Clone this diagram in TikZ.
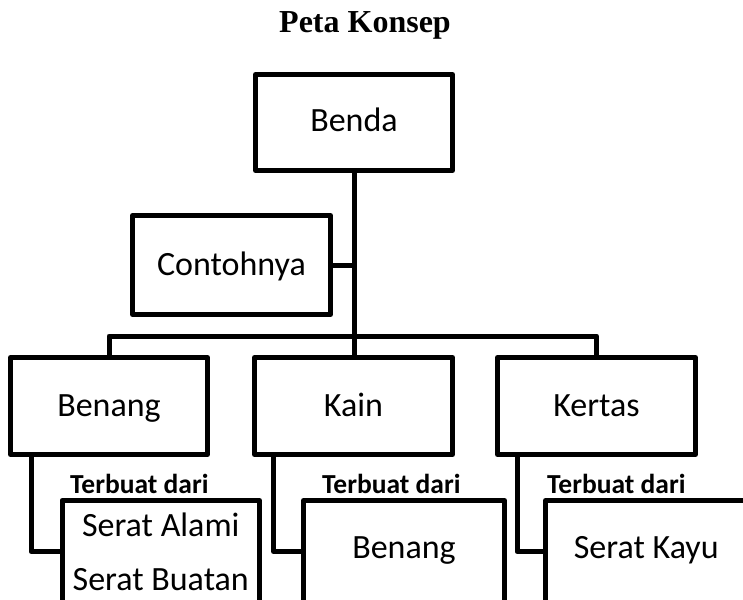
\documentclass[tikz,border=0pt]{standalone}
\usepackage{fontspec}
\setmainfont{Carlito}
\newfontfamily\titlefont{Liberation Serif}
\usetikzlibrary{positioning}
\tikzset{
  %% concept box
  kbox/.style={rectangle,draw=black,line width=5pt,line join=round,
    minimum width=198pt,minimum height=97pt,inner sep=0pt,outer sep=0pt,
    text height=22pt,text depth=2pt,
    font=\fontsize{34}{54}\selectfont,align=center,text=black},
  %% lower box, cut by the page edge
  sbox/.style={kbox,minimum height=102pt,text depth=9pt},
  %% connector lines
  conn/.style={draw=black,line width=5pt,line join=round},
  %% small bold label
  lbl/.style={font=\fontsize{27.5}{30}\selectfont\bfseries,anchor=base west,
    inner sep=0pt,text=black},
  %% title
  ttl/.style={font=\titlefont\bfseries\fontsize{32}{36}\selectfont,
    anchor=base,inner sep=0pt,text=black},
}
\begin{document}
\begin{tikzpicture}[x=1pt,y=-1pt]
  \useasboundingbox (0,0) rectangle (743,599);
  \clip (0,0) rectangle (743,599);
  \fill[white] (0,0) rectangle (743,599);

  \node[ttl] (title) at (365,33) {Peta Konsep};

  \node[kbox,minimum width=197pt,minimum height=96pt,text depth=4pt] (benda) at (354,122.5) {Benda};
  \node[kbox,minimum height=99pt] (contoh) at (231.5,265) {Contohnya};
  \node[kbox,minimum width=197pt] (benang) at (109,406)   {Benang};
  \node[kbox]                     (kain)   at (353.5,406) {Kain};
  \node[kbox]                     (kertas) at (596.5,406) {Kertas};

  \node[sbox,minimum width=197.5pt,text height=,text depth=] (serat) at (160.75,551.5) {Serat Alami\\Serat Buatan};
  \node[sbox,minimum width=201pt]   (benang2) at (404,551.5)   {Benang};
  \node[sbox,minimum width=201.5pt] (kayu)    at (646.25,551.5) {Serat Kayu};

  \node[lbl] (dari1) at (70,493)  {Terbuat dari};
  \node[lbl] (dari2) at (322,493) {Terbuat dari};
  \node[lbl] (dari3) at (547,493) {Terbuat dari};

  \coordinate (bar) at (353.5,336);

  \draw[conn] (benda.south) -- (benda.south |- kain.north);
  \draw[conn] (contoh.east) -- (contoh.east -| benda.south);
  \draw[conn] (benang.north) |- (bar) -| (kertas.north);
  \draw[conn] ([xshift=20.5pt]benang.south west) |- (serat.west);
  \draw[conn] ([xshift=19pt]kain.south west)     |- (benang2.west);
  \draw[conn] ([xshift=19.5pt]kertas.south west) |- (kayu.west);
\end{tikzpicture}
\end{document}
